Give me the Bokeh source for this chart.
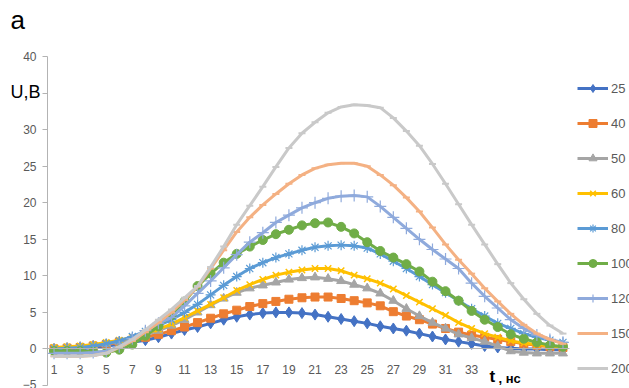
from bokeh.plotting import figure
from bokeh.models import FixedTicker, Legend, LegendItem, Label, Range1d
from bokeh.embed import file_html
from bokeh.resources import INLINE

# ---- data ----
t = list(range(1, 41))
x_tick_labels = list(range(1, 34, 2))
y_ticks = [-5, 0, 5, 10, 15, 20, 25, 30, 35, 40]
series_names = ["25", "40", "50", "60", "80", "100", "120", "150", "200"]

u25 = [-0.2, -0.1, 0.0, 0.2, 0.4, 0.6, 0.9, 1.2, 1.6, 2.1, 2.6, 3.0, 3.5, 4.0, 4.4, 4.7, 4.9, 5.0, 5.0, 4.9,
       4.7, 4.4, 4.1, 3.8, 3.5, 3.1, 2.8, 2.5, 2.1, 1.7, 1.3, 1.0, 0.7, 0.4, 0.2, 0.1, 0.0, 0.0, -0.1, -0.1]
u40 = [0.0, 0.1, 0.2, 0.4, 0.6, 0.9, 1.2, 1.6, 2.0, 2.5, 3.0, 3.6, 4.2, 4.8, 5.3, 5.8, 6.2, 6.5, 6.8, 7.0,
       7.1, 7.1, 6.9, 6.6, 6.3, 5.9, 5.1, 4.5, 4.0, 3.4, 2.8, 2.3, 1.9, 1.6, 1.3, 1.0, 0.7, 0.5, 0.3, 0.2]
u50 = [0.1, 0.2, 0.3, 0.5, 0.7, 1.0, 1.4, 1.9, 2.5, 3.2, 4.0, 5.0, 6.0, 6.9, 7.7, 8.3, 8.7, 9.1, 9.5, 9.7,
       9.8, 9.6, 9.3, 8.8, 8.3, 7.6, 6.6, 5.5, 4.5, 3.6, 2.8, 2.0, 1.5, 1.0, 0.4, -0.3, -0.5, -0.6, -0.6, -0.6]
u60 = [0.2, 0.3, 0.4, 0.6, 0.9, 1.2, 1.6, 2.1, 2.7, 3.4, 4.3, 5.2, 6.1, 7.0, 8.0, 8.8, 9.5, 10.1, 10.5, 10.8,
       11.0, 11.0, 10.7, 10.1, 9.6, 9.0, 8.2, 7.3, 6.4, 5.5, 4.6, 3.6, 2.8, 2.1, 1.6, 1.1, 0.8, 0.6, 0.4, 0.3]
u80 = [0.0, 0.1, 0.2, 0.4, 0.7, 1.1, 1.7, 2.4, 3.2, 4.0, 5.0, 6.1, 7.4, 8.7, 9.9, 11.0, 11.8, 12.5, 13.0, 13.5,
       13.9, 14.1, 14.2, 14.1, 13.8, 13.0, 12.0, 11.0, 9.9, 8.8, 7.7, 6.6, 5.5, 4.5, 3.5, 2.8, 2.1, 1.6, 1.2, 0.9]
u100 = [-0.3, -0.3, -0.3, -0.4, -0.5, -0.1, 0.6, 1.8, 3.1, 4.6, 6.5, 8.6, 10.3, 11.8, 13.0, 14.0, 14.9, 15.7, 16.3, 16.9,
        17.2, 17.3, 16.7, 15.8, 14.6, 13.4, 12.5, 11.6, 10.6, 9.2, 7.9, 6.6, 5.2, 4.0, 3.0, 2.0, 1.4, 0.9, 0.5, 0.3]
u120 = [-0.6, -0.6, -0.6, -0.5, -0.3, 0.3, 1.4, 2.5, 3.5, 4.3, 5.9, 7.6, 9.3, 11.1, 12.9, 14.6, 15.9, 17.3, 18.3, 19.3,
        20.0, 20.6, 20.9, 21.0, 20.8, 19.5, 18.0, 16.5, 15.0, 13.6, 12.3, 11.0, 9.0, 7.2, 5.6, 4.0, 2.8, 1.9, 1.3, 0.9]
u150 = [-1.0, -1.0, -1.0, -0.9, -0.6, 0.2, 1.1, 2.3, 3.6, 5.0, 6.7, 8.5, 11.0, 13.5, 16.0, 18.0, 19.7, 21.2, 22.6, 23.8,
        24.7, 25.2, 25.4, 25.4, 25.0, 23.8, 22.4, 20.7, 18.8, 16.6, 14.3, 12.2, 10.3, 8.3, 6.5, 4.8, 3.3, 2.1, 1.3, 0.7]
u200 = [-1.0, -1.0, -1.0, -0.9, -0.6, 0.3, 1.3, 2.6, 4.0, 5.4, 7.0, 8.6, 11.2, 14.0, 17.0, 19.6, 22.2, 24.9, 27.5, 29.5,
        31.0, 32.3, 33.1, 33.4, 33.3, 33.0, 31.6, 29.8, 27.8, 25.3, 22.6, 19.8, 17.0, 14.3, 11.6, 9.0, 6.8, 4.8, 3.2, 2.1]

series_values = [u25, u40, u50, u60, u80, u100, u120, u150, u200]

# ---- styles / layout ----
colors = ["#4472c4", "#ed7d31", "#a5a5a5", "#ffc000", "#5b9bd5", "#70ad47", "#8faadc", "#f4b183", "#c9c9c9"]
markers = ["diamond", "square", "triangle", "x", "asterisk", "circle", "cross", "dash", "dash"]
msizes = [11, 8, 9, 9, 10, 9, 12, 7, 7]
mlw = [1, 1, 1, 1.5, 1.2, 1, 1.2, 2, 2]

TXT = "#595959"
AX = "#b3b3b3"
FONT = "Liberation Sans"

W, H = 629, 388
# plot area (axes box) in canvas pixels
FL, FR, FT, FB = 47, 569, 56, 385
X0, X1 = 0.5, 40.5
Y0, Y1 = -5.0, 40.0
sx = (FR - FL) / (X1 - X0)
sy = (FB - FT) / (Y1 - Y0)
x_range = Range1d(X0 - FL / sx, X1 + (W - FR) / sx)
y_range = Range1d(Y0 - (H - FB) / sy, Y1 + FT / sy)

p = figure(width=W, height=H, x_range=x_range, y_range=y_range,
           output_backend="svg", toolbar_location=None, title=None, min_border=0)
p.outline_line_color = None
p.xgrid.visible = False
p.ygrid.visible = False
p.background_fill_color = "white"
p.border_fill_color = "white"

# y axis at x = 0.5
p.yaxis.fixed_location = X0
p.yaxis.bounds = (Y0, Y1)
p.yaxis.ticker = FixedTicker(ticks=y_ticks)
p.yaxis.major_label_overrides = {35: ""}
p.yaxis.axis_line_color = AX
p.yaxis.major_tick_line_color = AX
p.yaxis.major_tick_out = 5
p.yaxis.major_tick_in = 0
p.yaxis.minor_tick_line_color = None
p.yaxis.major_label_standoff = 6
p.yaxis.major_label_text_font = FONT
p.yaxis.major_label_text_font_size = "12px"
p.yaxis.major_label_text_color = TXT

# x axis at y = 0
p.xaxis.fixed_location = 0
p.xaxis.bounds = (X0, X1)
p.xaxis.ticker = FixedTicker(ticks=x_tick_labels)
p.xaxis.axis_line_color = AX
p.xaxis.major_tick_line_color = None
p.xaxis.major_tick_out = 0
p.xaxis.major_tick_in = 0
p.xaxis.minor_tick_line_color = None
p.xaxis.major_label_standoff = 16
p.xaxis.major_label_text_font = FONT
p.xaxis.major_label_text_font_size = "12px"
p.xaxis.major_label_text_color = TXT

items = []
for name, vals, c, m, s, lw in zip(series_names, series_values, colors, markers, msizes, mlw):
    lr = p.line(t, vals, line_color=c, line_width=3)
    sr = p.scatter(t, vals, marker=m, size=s, fill_color=c, line_color=c, line_width=lw)
    items.append(LegendItem(label=name, renderers=[lr, sr]))

legend = Legend(items=items, location=(577, 10), orientation="vertical",
                glyph_width=31, glyph_height=20, label_height=20, spacing=15,
                label_standoff=3, padding=0, margin=0,
                border_line_color=None, background_fill_alpha=0,
                label_text_font=FONT, label_text_font_size="13px", label_text_color=TXT)
p.add_layout(legend)

# text annotations (screen units from canvas bottom-left)
p.add_layout(Label(x=10, y=H - 34, x_units="screen", y_units="screen", text="a",
                   text_font=FONT, text_font_size="26px", text_color="#000000"))
p.add_layout(Label(x=10, y=H - 101, x_units="screen", y_units="screen", text="U,В",
                   text_font=FONT, text_font_size="18px", text_color="#000000"))
p.add_layout(Label(x=489, y=H - 385, x_units="screen", y_units="screen", text="t",
                   text_font=FONT, text_font_size="17px", text_font_style="bold", text_color="#000000"))
p.add_layout(Label(x=498, y=H - 385, x_units="screen", y_units="screen", text=", нс",
                   text_font=FONT, text_font_size="13px", text_font_style="bold", text_color="#000000"))

open("out.html", "w").write(file_html(p, INLINE))
